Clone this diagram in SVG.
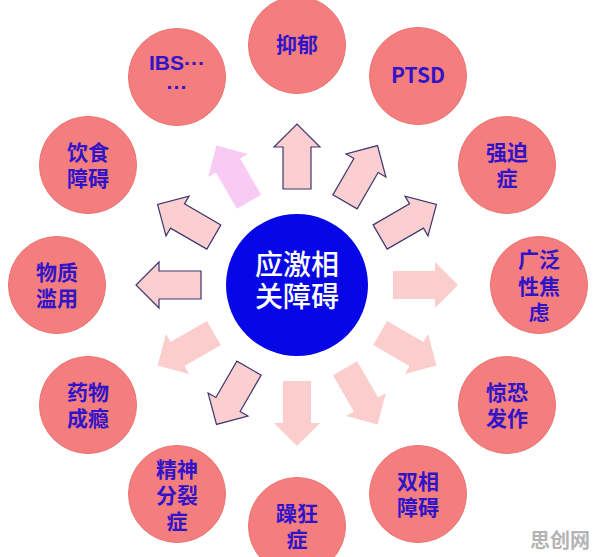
<svg xmlns="http://www.w3.org/2000/svg" xmlns:xlink="http://www.w3.org/1999/xlink" width="596" height="557" viewBox="0 0 596 557">
<style>
.node circle{fill:#F47D7D;stroke:#EC7373;stroke-width:1}
.lbl{font-family:"Noto Sans CJK SC","Liberation Sans",sans-serif;font-weight:bold;font-size:21px;fill:#3214C8;text-anchor:middle}
.dots{font-family:"Liberation Sans",sans-serif;font-weight:bold;font-size:21px;fill:#3214C8;text-anchor:middle}
.ctr{font-family:"Noto Sans CJK SC","Liberation Sans",sans-serif;font-weight:500;font-size:28px;fill:#FFFFFF;text-anchor:middle}
.out{fill:#FBCFCF;stroke:#3D3670;stroke-width:1.2;stroke-linejoin:miter}
.soft{fill:#FBCDCD;stroke:none}
.lav{fill:#F7CBF4;stroke:none}
.wm{font-family:"Noto Sans CJK SC",sans-serif;font-weight:bold;font-size:20px;fill:#B4B4B4}
</style>
<defs>
<path id="arr" d="M96,-14 L138,-14 L138,-23 L161,0 L138,23 L138,14 L96,14 Z"/>
</defs>
<rect width="596" height="557" fill="#FFFFFF"/>
<g id="connectors">
<use xlink:href="#arr" class="soft" transform="translate(297,285) rotate(0)"/>
<use xlink:href="#arr" class="soft" transform="translate(297,285) rotate(30)"/>
<use xlink:href="#arr" class="soft" transform="translate(297,285) rotate(60)"/>
<use xlink:href="#arr" class="soft" transform="translate(297,285) rotate(90)"/>
<use xlink:href="#arr" class="out" transform="translate(297,285) rotate(120)"/>
<use xlink:href="#arr" class="soft" transform="translate(297,285) rotate(150)"/>
<use xlink:href="#arr" class="out" transform="translate(297,285) rotate(180)"/>
<use xlink:href="#arr" class="out" transform="translate(297,285) rotate(210)"/>
<use xlink:href="#arr" class="lav" transform="translate(297,285) rotate(240)"/>
<use xlink:href="#arr" class="out" transform="translate(297,285) rotate(270)"/>
<use xlink:href="#arr" class="out" transform="translate(297,285) rotate(300)"/>
<use xlink:href="#arr" class="out" transform="translate(297,285) rotate(330)"/>
</g>
<g id="center">
<circle cx="297" cy="285" r="71" fill="#0606E6"/>
<text class="ctr" x="297" y="275">应激相<tspan x="297" dy="32">关障碍</tspan></text>
</g>
<g id="n-yiyu" class="node"><circle cx="297" cy="45" r="48.5"/><text class="lbl" x="297" y="52">抑郁</text></g>
<g id="n-ptsd" class="node"><circle cx="418" cy="76" r="48.5"/><text class="lbl" x="418" y="83">PTSD</text></g>
<g id="n-qiangpo" class="node"><circle cx="507" cy="165" r="48.5"/><text class="lbl" x="507" y="160">强迫<tspan x="507" dy="26">症</tspan></text></g>
<g id="n-guangfan" class="node"><circle cx="539" cy="285" r="48.5"/><text class="lbl" x="539" y="267">广泛<tspan x="539" dy="26.5">性焦</tspan><tspan x="539" dy="26">虑</tspan></text></g>
<g id="n-jingkong" class="node"><circle cx="507" cy="405" r="48.5"/><text class="lbl" x="507" y="400">惊恐<tspan x="507" dy="26">发作</tspan></text></g>
<g id="n-shuangxiang" class="node"><circle cx="418" cy="494" r="48.5"/><text class="lbl" x="418" y="489">双相<tspan x="418" dy="26">障碍</tspan></text></g>
<g id="n-zaokuang" class="node"><circle cx="297" cy="526" r="48.5"/><text class="lbl" x="297" y="521">躁狂<tspan x="297" dy="26">症</tspan></text></g>
<g id="n-jingshen" class="node"><circle cx="177" cy="494" r="48.5"/><text class="lbl" x="177" y="477">精神<tspan x="177" dy="26">分裂</tspan><tspan x="177" dy="26">症</tspan></text></g>
<g id="n-yaowu" class="node"><circle cx="88" cy="405" r="48.5"/><text class="lbl" x="88" y="400">药物<tspan x="88" dy="26">成瘾</tspan></text></g>
<g id="n-wuzhi" class="node"><circle cx="57" cy="285" r="48.5"/><text class="lbl" x="57" y="280">物质<tspan x="57" dy="26">滥用</tspan></text></g>
<g id="n-yinshi" class="node"><circle cx="88" cy="165" r="48.5"/><text class="lbl" x="88" y="160">饮食<tspan x="88" dy="26">障碍</tspan></text></g>
<g id="n-ibs" class="node"><circle cx="177" cy="77" r="48.5"/><text class="dots" x="177" y="70">IBS···<tspan x="177" dy="24">···</tspan></text></g>
<text class="wm" x="530" y="548">思创网</text>
</svg>
